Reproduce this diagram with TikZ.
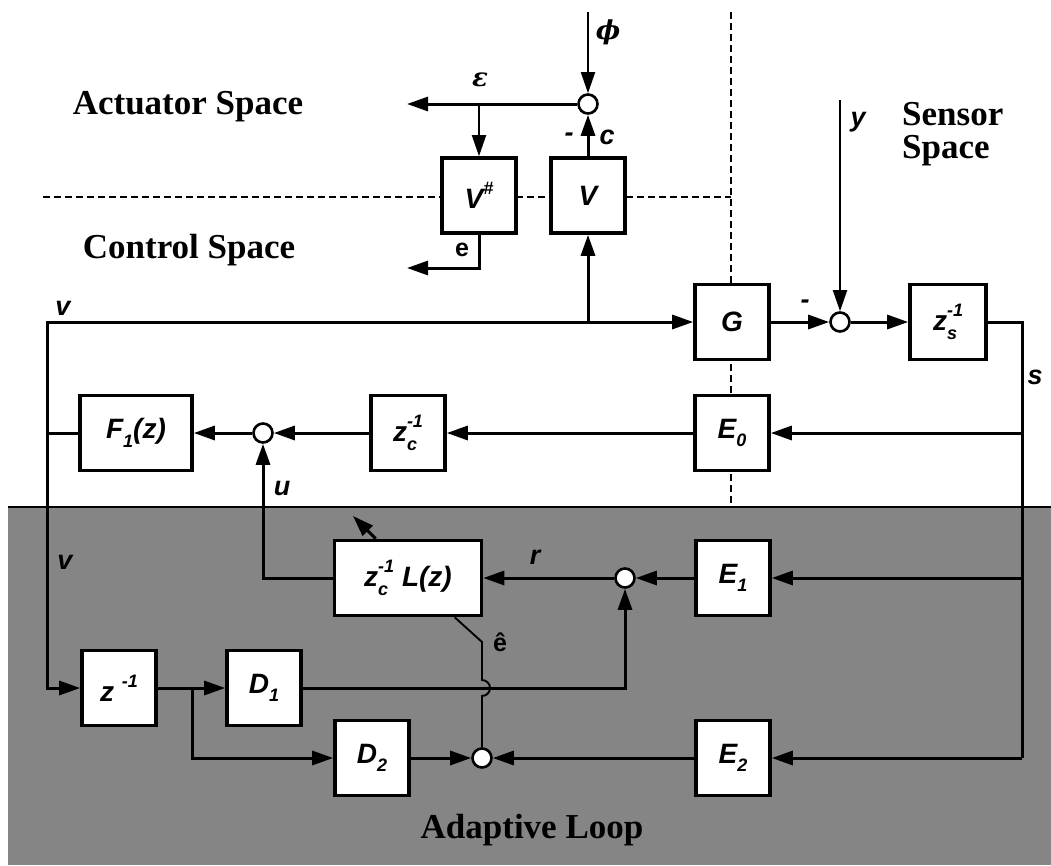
\documentclass[tikz,border=0pt]{standalone}
\usepackage{fontspec}
\setmainfont{Liberation Serif}
\setsansfont{Liberation Sans}
\newfontfamily\grk{DejaVu Serif}
\usetikzlibrary{arrows.meta}
\newcommand\lo[1]{\raisebox{-.3em}{\fontsize{18}{18}\selectfont #1}}
\newcommand\hi[1]{\raisebox{.5em}{\fontsize{18}{18}\selectfont #1}}

\begin{document}
\begin{tikzpicture}[x=1pt,y=-1pt,>={Triangle[length=21pt,width=14pt]},
  blk/.style={draw,line width=3.6pt,fill=white,minimum width=74pt,minimum height=75pt,inner sep=0pt,font=\fontsize{28}{30}\selectfont\sffamily\bfseries\itshape},
  sumpt/.style={draw,circle,line width=2.6pt,fill=white,minimum size=19pt,inner sep=0pt},
  sig/.style={line width=3pt},
  thinsig/.style={line width=1.9pt},
  lbl/.style={font=\fontsize{27}{28}\selectfont\sffamily\bfseries\itshape,inner sep=0pt},
  ulbl/.style={font=\fontsize{25}{26}\selectfont\sffamily\bfseries,inner sep=0pt},
  mlbl/.style={font=\fontsize{26}{28}\selectfont\grk\bfseries\itshape,inner sep=0pt},
  region/.style={font=\fontsize{35}{33}\selectfont\bfseries,inner sep=0pt,align=left},
  bnd/.style={line width=1.6pt,dash pattern=on 7pt off 4pt}]
\useasboundingbox (0,0) rectangle (1051,865);
% adaptive loop background and space boundaries
\fill[black!48] (8,507) rectangle (1051,865);
\draw[line width=1.6pt] (8,507) -- (1051,507);
\draw[bnd] (43,197) -- (731,197); \draw[bnd] (731,12) -- (731,505);
% blocks
\node[blk] (Vs) at (479,195.5) {V\hi{\#}};
\node[blk] (V) at (588,195.5) {V};
\node[sumpt] (sa) at (588,104) {};
\node[blk] (G) at (732,322) {G};
\node[sumpt] (sy) at (840,322) {};
\node[blk,minimum width=76pt] (Zs) at (948,322) {z\rlap{\lo{s}}\hi{-1}};
\node[blk,minimum width=112pt] (F1) at (136,433) {F\lo{1}(z)};
\node[sumpt] (sc) at (263,433) {};
\node[blk] (Zc) at (408,433) {z\rlap{\lo{c}}\hi{-1}};
\node[blk] (E0) at (732,433) {E\lo{0}};
\node[blk,minimum width=147pt] (L) at (408,578) {z\rlap{\lo{c}}\hi{-1} L(z)};
\node[sumpt] (sr) at (625,578) {};
\node[blk] (E1) at (733,578) {E\lo{1}};
\node[blk] (Z) at (119,688) {z \hi{-1}};
\node[blk] (D1) at (264,688) {D\lo{1}};
\node[blk] (D2) at (372,758) {D\lo{2}};
\node[sumpt] (se) at (482,758) {};
\node[blk] (E2) at (733,758) {E\lo{2}};
% free ends and corners
\coordinate (phin) at (588,12); \coordinate (yin) at (840,100);
\coordinate (epsout) at (407,104); \coordinate (epsb) at (479,104); \coordinate (eout) at (407,268);
\coordinate (vc) at (47,322); \coordinate (vb) at (588,322);
\coordinate (sb) at (1022,758); \coordinate (jn) at (192,688);
\coordinate (ek) at (482,642); \coordinate (adapt) at (353,516);
% actuator / control part
\draw[thinsig,->] (phin) -- (sa);
\draw[sig,->] (sa) -- (epsout);
\draw[thinsig,->] (epsb) -- (Vs);
\draw[sig,->] (V) -- (sa);
\draw[sig,->] (Vs.south) |- (eout);
\draw[sig] (F1.west) -- (F1.west -| vc);
\draw[sig,->] (vc |- F1.west) -- (vc) -- (G);
\draw[sig,->] (vc |- F1.west) |- (Z.west);
\draw[sig,->] (vb) -- (V);
\draw[sig,->] (G) -- (sy); \draw[thinsig,->] (yin) -- (sy); \draw[sig,->] (sy) -- (Zs);
\draw[sig] (Zs.east) -| (sb);
\draw[sig,->] (E0.east -| sb) -- (E0); \draw[sig,->] (E1.east -| sb) -- (E1); \draw[sig,->] (sb) -- (E2);
\draw[sig,->] (E0) -- (Zc); \draw[sig,->] (Zc) -- (sc); \draw[sig,->] (sc) -- (F1);
% adaptive loop
\draw[sig,->] (L.west) -| (sc.south);
\draw[sig,->] (E1) -- (sr); \draw[sig,->] (sr) -- (L);
\draw[sig,->] (D1.east) -| (sr.south);
\draw[sig,->] (Z) -- (D1); \draw[sig,->] (jn) |- (D2.west);
\draw[sig,->] (D2) -- (se); \draw[sig,->] (E2) -- (se);
\draw[thinsig] ([xshift=122pt]L.south west) -- (ek) -- (482,680) arc[start angle=90,end angle=-90,radius=8pt] -- (se);
\draw[sig,->] ([xshift=43pt]L.north west) -- (adapt);
% labels
\node[mlbl] (leps) at (480,80) {ε};
\node[mlbl] (lphi) at (608,32) {ϕ};
\node[lbl] (lm1) at (569,137) {-}; \node[lbl] (lc) at (607,137) {c};
\node[ulbl] (le) at (462,250) {e};
\node[lbl] (lv1) at (63,308) {v}; \node[lbl] (lv2) at (65,562) {v};
\node[lbl] (lm2) at (805,304) {-}; \node[lbl] (ly) at (858,122) {y};
\node[lbl] (ls) at (1035,377) {s};
\node[lbl] (lu) at (282,488) {u}; \node[lbl] (lr) at (535,557) {r};
\node[ulbl] (leh) at (500,642) {ê};
\node[region] (act) at (188,107) {Actuator Space};
\node[region] (ctl) at (189,250) {Control Space};
\node[region,anchor=west] (sen) at (902,134) {Sensor\\Space};
\node[region] (ada) at (532,830) {Adaptive Loop};
\end{tikzpicture}
\end{document}
